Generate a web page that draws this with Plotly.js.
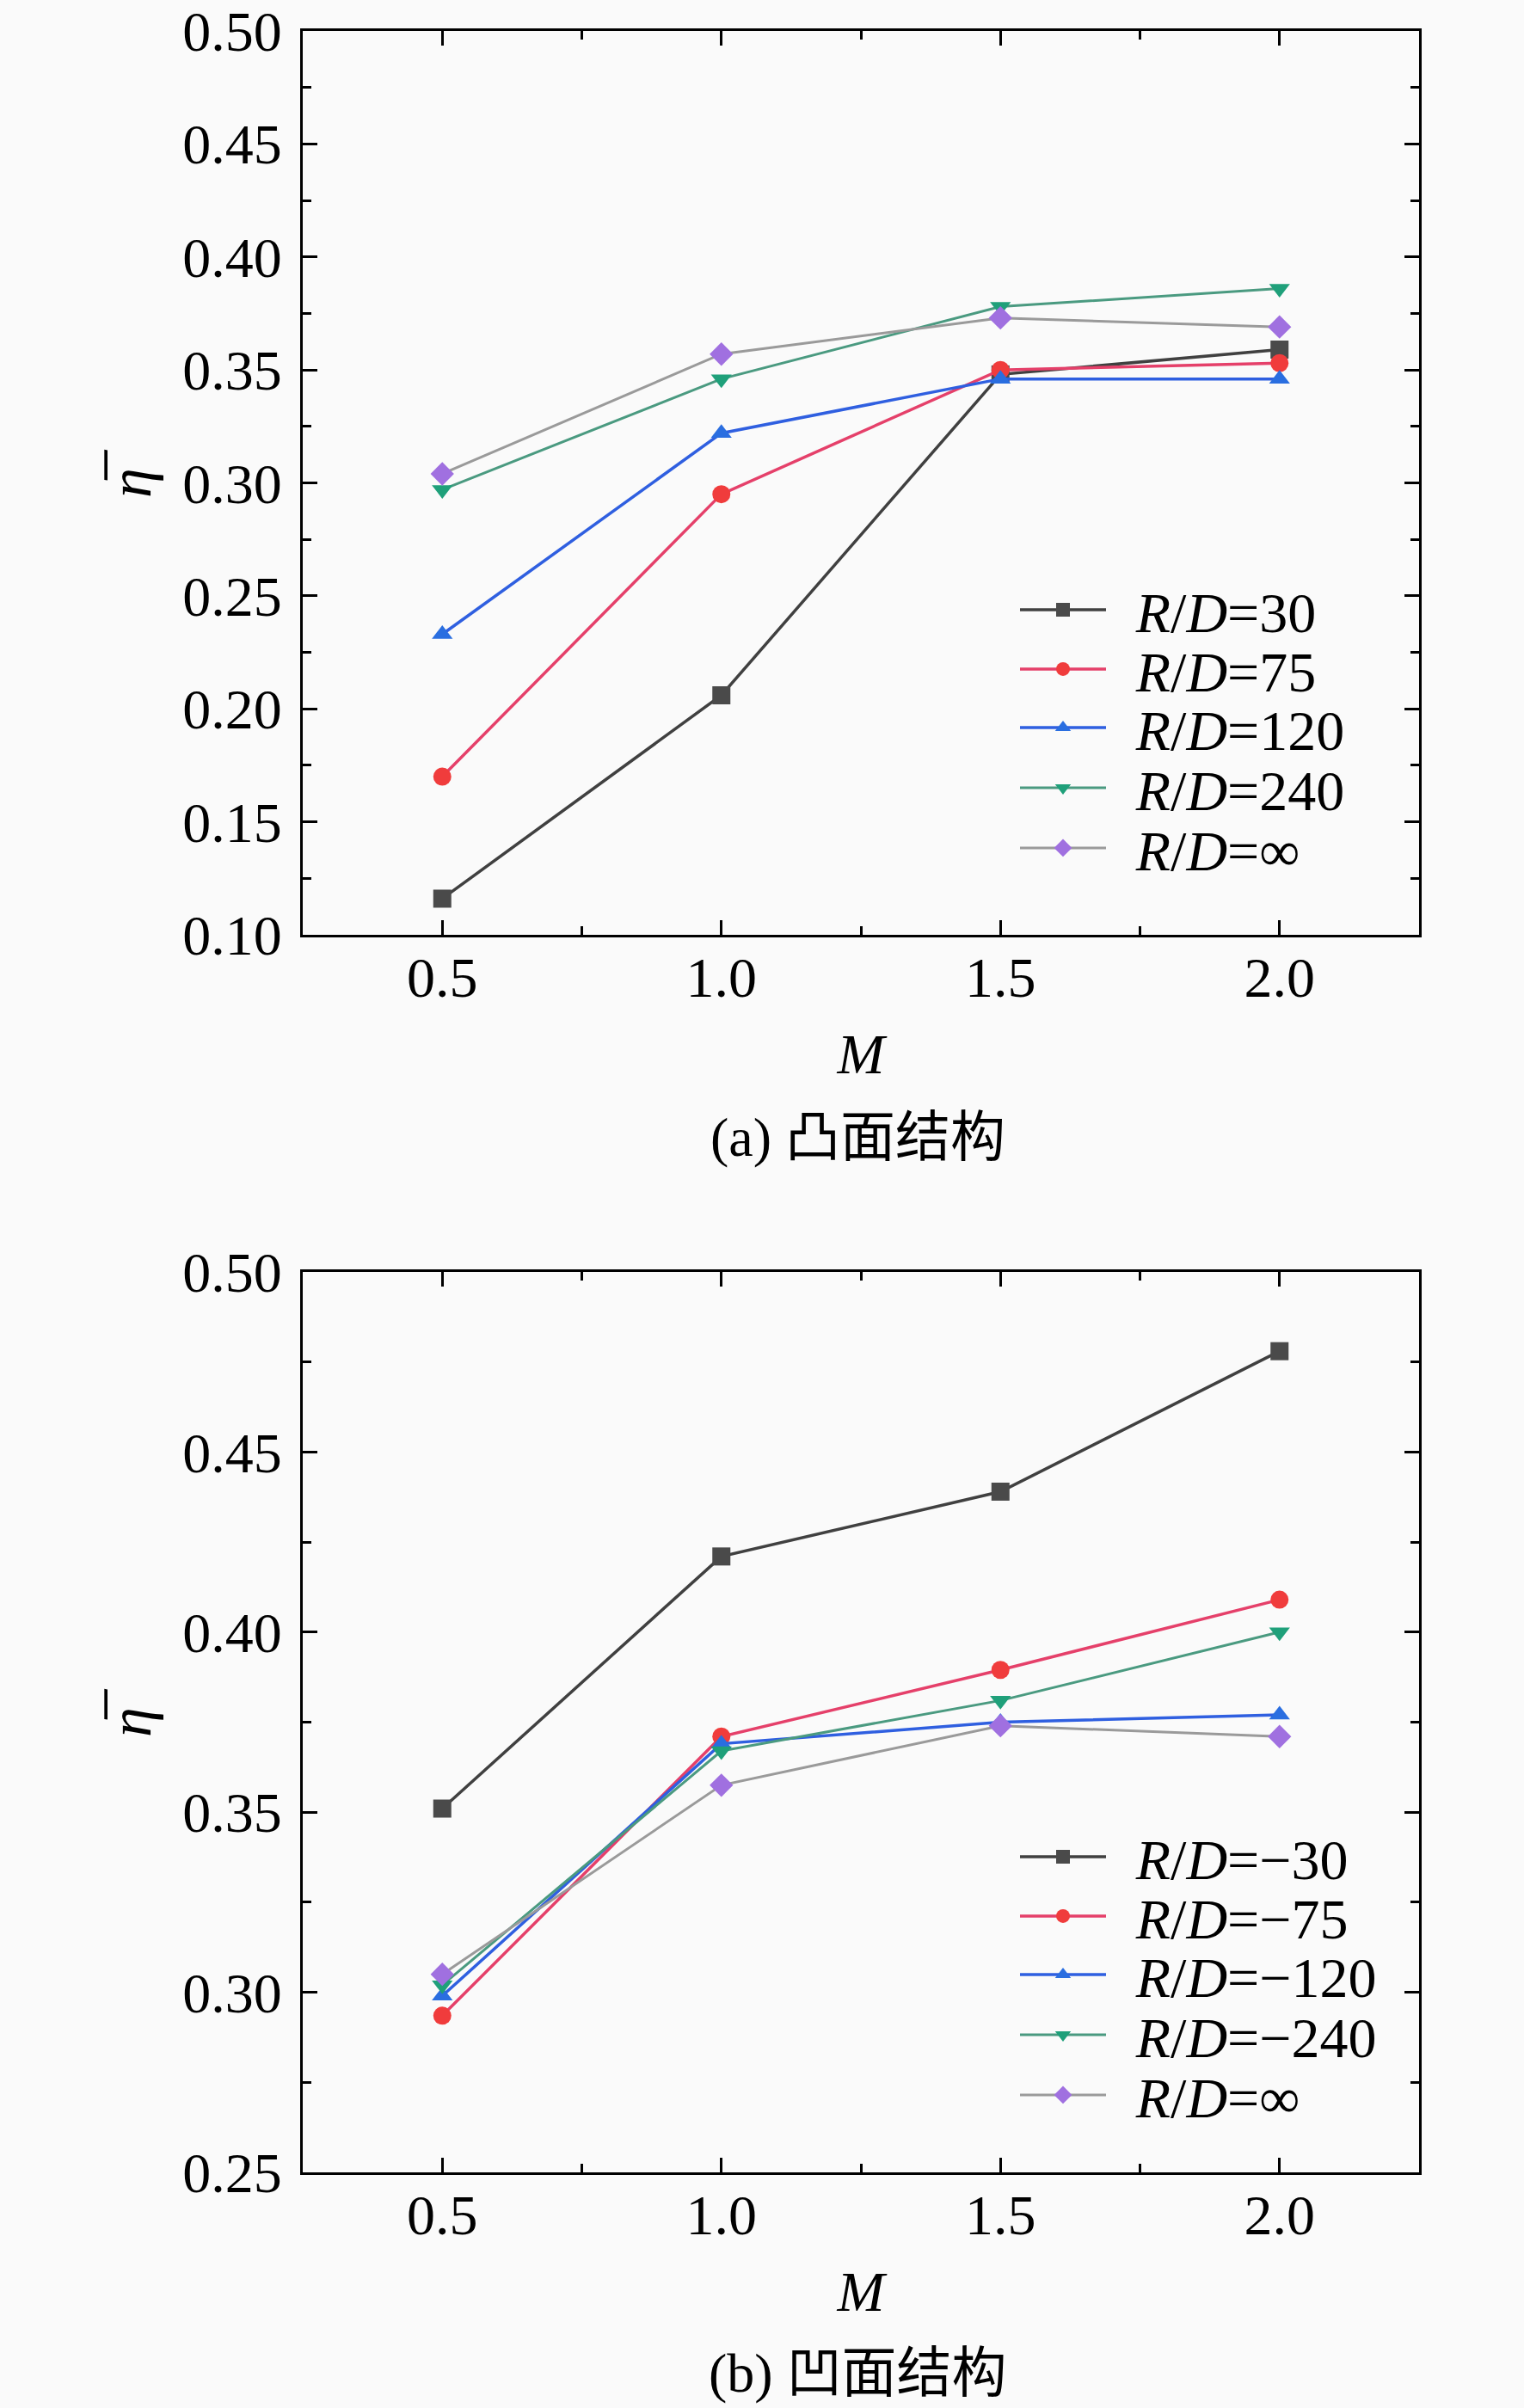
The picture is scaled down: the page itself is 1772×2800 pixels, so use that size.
<!DOCTYPE html>
<html><head><meta charset="utf-8">
<script src="https://cdn.plot.ly/plotly-3.0.1.min.js"></script>
<style>html,body{margin:0;padding:0;background:#fafafa;}</style>
</head><body>
<div id="chart" style="width:1772px;height:2800px;"></div>
<script>
const M = [0.5, 1.0, 1.5, 2.0];
// (a) convex
const convexNames = ['<i>R</i>/<i>D</i>=30', '<i>R</i>/<i>D</i>=75', '<i>R</i>/<i>D</i>=120', '<i>R</i>/<i>D</i>=240', '<i>R</i>/<i>D</i>=∞'];
const convex30  = [0.116, 0.206, 0.348, 0.359];
const convex75  = [0.170, 0.295, 0.350, 0.353];
const convex120 = [0.233, 0.322, 0.346, 0.346];
const convex240 = [0.297, 0.346, 0.378, 0.386];
const convexInf = [0.304, 0.357, 0.373, 0.369];
// (b) concave
const concaveNames = ['<i>R</i>/<i>D</i>=−30', '<i>R</i>/<i>D</i>=−75', '<i>R</i>/<i>D</i>=−120', '<i>R</i>/<i>D</i>=−240', '<i>R</i>/<i>D</i>=∞'];
const concave30  = [0.351, 0.421, 0.439, 0.478];
const concave75  = [0.2935, 0.371, 0.3895, 0.409];
const concave120 = [0.299, 0.369, 0.375, 0.377];
const concave240 = [0.302, 0.367, 0.381, 0.400];
const concaveInf = [0.305, 0.3575, 0.374, 0.371];

const styles = [
  {line:'#404040', lw:3.5, mc:'#4a4a4a', sym:'square'},
  {line:'#e5406a', lw:3.5, mc:'#f03c3c', sym:'circle'},
  {line:'#2f5fe0', lw:3.5, mc:'#2a6ee0', sym:'triangle-up'},
  {line:'#4a9a80', lw:3,   mc:'#1fa07a', sym:'triangle-down'},
  {line:'#9a9a9a', lw:3,   mc:'#a070e0', sym:'diamond'}
];

const W = 1772, H = 2800;
const traces = [];
const legends = {};
const topRowsY = [709, 778, 846, 916, 986];
const botRowsY = [2159, 2228, 2296, 2366, 2436];
const legendFont = {family:'Liberation Serif, Times New Roman, serif', size:66, color:'#000'};
const GAP = '\u00a0\u2009';

function addSet(seriesArr, names, xa, ya, legOffset, rowsY) {
  seriesArr.forEach((vals, i) => {
    const st = styles[i];
    const n = legOffset + i;
    const lname = n === 1 ? 'legend' : 'legend' + n;
    traces.push({
      x: M, y: vals, name: GAP + names[i], type:'scatter', mode:'lines+markers',
      xaxis: xa, yaxis: ya, legend: lname,
      line: {color: st.line, width: st.lw},
      marker: {symbol: st.sym, size: 21, color: st.mc, line:{width:0}}
    });
    legends[lname] = {
      x: 1181 / W, y: 1 - rowsY[i] / H, xanchor:'left', yanchor:'middle',
      bgcolor:'rgba(0,0,0,0)', borderwidth:0, font: legendFont, itemwidth: 100
    };
  });
}
addSet([convex30, convex75, convex120, convex240, convexInf], convexNames, 'x', 'y', 1, topRowsY);
addSet([concave30, concave75, concave120, concave240, concaveInf], concaveNames, 'x2', 'y2', 6, botRowsY);

const tickFont = {family:'Liberation Serif, Times New Roman, serif', size:66, color:'#000'};
const xCommon = {
  range:[0.25, 2.25], tick0:0.5, dtick:0.5, tickformat:'.1f',
  ticks:'inside', ticklen:17, tickwidth:3, tickcolor:'#000',
  minor:{dtick:0.25, ticks:'inside', ticklen:10, tickwidth:3, tickcolor:'#000'},
  showline:true, linewidth:3, linecolor:'#000', mirror:'ticks',
  showgrid:false, zeroline:false, tickfont: tickFont, ticklabelstandoff:-10,
  title:{text:'<i>M</i>', font:{family:'Liberation Serif, serif', size:66, color:'#000'}, standoff:30},
  domain:[352/W, 1650/W]
};
const yCommon = {
  dtick:0.05, tickformat:'.2f',
  ticks:'inside', ticklen:17, tickwidth:3, tickcolor:'#000',
  minor:{dtick:0.025, ticks:'inside', ticklen:10, tickwidth:3, tickcolor:'#000'},
  showline:true, linewidth:3, linecolor:'#000', mirror:'ticks',
  showgrid:false, zeroline:false, tickfont: tickFont, ticklabelstandoff:8,
  title:{text:'<i>η̅</i>', font:{family:'Liberation Serif, serif', size:70, color:'#000'}, standoff:14}
};

const layout = {
  width: W, height: H,
  margin:{l:0, r:0, t:0, b:0},
  paper_bgcolor:'#fafafa', plot_bgcolor:'#fafafa',
  showlegend:true,
  xaxis: Object.assign({}, xCommon, {anchor:'y'}),
  yaxis: Object.assign({}, yCommon, {range:[0.10, 0.50], tick0:0.10, domain:[1-1087/H, 1-36/H], anchor:'x'}),
  xaxis2: Object.assign({}, xCommon, {anchor:'y2'}),
  yaxis2: Object.assign({}, yCommon, {range:[0.25, 0.50], tick0:0.25, domain:[1-2526/H, 1-1479/H], anchor:'x2'}),
  annotations:[
    {text:'(a) 凸面结构', xref:'paper', yref:'paper', x:997/W, y:1-1322/H, xanchor:'center', yanchor:'middle', showarrow:false,
     font:{family:'Liberation Serif, Noto Sans CJK SC, serif', size:64, color:'#000'}},
    {text:'(b) 凹面结构', xref:'paper', yref:'paper', x:997/W, y:1-2759/H, xanchor:'center', yanchor:'middle', showarrow:false,
     font:{family:'Liberation Serif, Noto Sans CJK SC, serif', size:64, color:'#000'}}
  ]
};
Object.assign(layout, legends);

Plotly.newPlot('chart', traces, layout, {staticPlot:true, displayModeBar:false});
</script>
</body></html>
